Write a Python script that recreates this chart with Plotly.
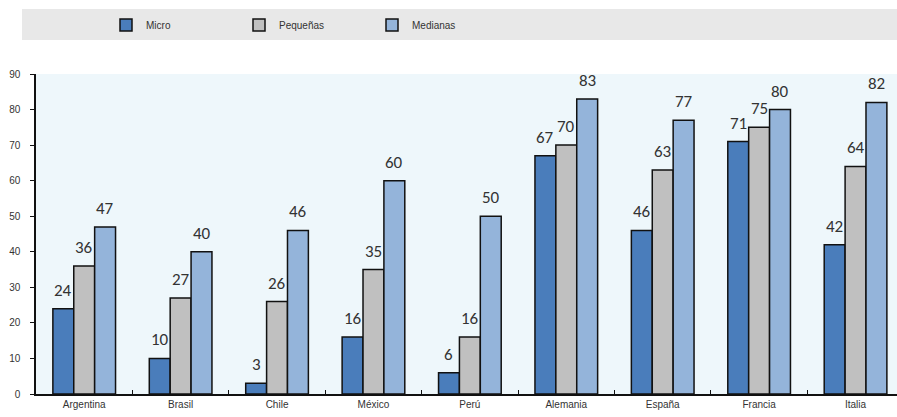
import plotly.graph_objects as go

categories = ["Argentina", "Brasil", "Chile", "México", "Perú", "Alemania", "España", "Francia", "Italia"]
micro = [24, 10, 3, 16, 6, 67, 46, 71, 42]
pequenas = [36, 27, 26, 35, 16, 70, 63, 75, 64]
medianas = [47, 40, 46, 60, 50, 83, 77, 80, 82]
series_names = ["Micro", "Pequeñas", "Medianas"]
y_ticks = [0, 10, 20, 30, 40, 50, 60, 70, 80, 90]

colors = ["#4a7dbb", "#c0c0c0", "#94b4da"]
narrow = "Liberation Sans Narrow, Arial Narrow, Liberation Sans, Arial"
label_font = "Carlito, Calibri, Lato, Open Sans, sans-serif"

W, H = 897, 417
ml, mr, mt, mb = 36, 0, 74, 23
pw = W - ml - mr
ph = H - mt - mb

fig = go.Figure()
all_series = [micro, pequenas, medianas]
for name, vals, col in zip(series_names, all_series, colors):
    fig.add_trace(go.Bar(
        name=name, x=categories, y=vals,
        marker=dict(color=col, line=dict(color="#111111", width=1.5)),
    ))

# data labels
cat_px = pw / 8.93
bar_px = cat_px * 0.65 / 3
for i, vals in enumerate(all_series):
    for c, v in zip(categories, vals):
        fig.add_annotation(
            x=c, y=v, xref="x", yref="y", text=str(v), showarrow=False,
            yanchor="bottom", xanchor="center",
            xshift=(i - 1) * bar_px, yshift=6,
            font=dict(family=label_font, size=17, color="#333333"),
        )

# legend band
fig.add_shape(type="rect", xref="paper", yref="paper",
              x0=(22 - ml) / pw, x1=1.05,
              y0=1 + (mt - 40) / ph, y1=1 + (mt - 9) / ph,
              fillcolor="#e8e8e8", line=dict(width=0), layer="below")

fig.update_layout(
    width=W, height=H,
    margin=dict(l=ml, r=mr, t=mt, b=mb),
    paper_bgcolor="white",
    plot_bgcolor="#eef7fb",
    barmode="group", bargap=0.35, bargroupgap=0,
    showlegend=True,
    legend=dict(
        orientation="h", x=(106 - ml) / pw, xanchor="left",
        y=1 + (mt - 25) / ph, yanchor="middle",
        bgcolor="rgba(0,0,0,0)",
        entrywidth=88, entrywidthmode="pixels",
        font=dict(family=narrow, size=10, color="#333333"),
    ),
    xaxis=dict(
        range=[-0.5, 8.43], showline=True, linecolor="#111111", linewidth=1.5,
        ticks="inside", ticklen=4, tickcolor="#111111", tickson="boundaries",
        showgrid=False, tickfont=dict(family=narrow, size=10, color="#333333"),
        fixedrange=True,
    ),
    yaxis=dict(
        range=[0, 90], tickvals=y_ticks, showline=True, linecolor="#111111", linewidth=1.5,
        ticks="outside", ticklen=4, tickcolor="#111111", showgrid=False, zeroline=False,
        tickfont=dict(family=narrow, size=10, color="#333333"), ticklabelstandoff=8,
        fixedrange=True,
    ),
)

fig.write_html(
    "out.html",
    config={"displayModeBar": False},
    post_script="document.body.style.margin='0';document.body.style.overflow='hidden';",
)
